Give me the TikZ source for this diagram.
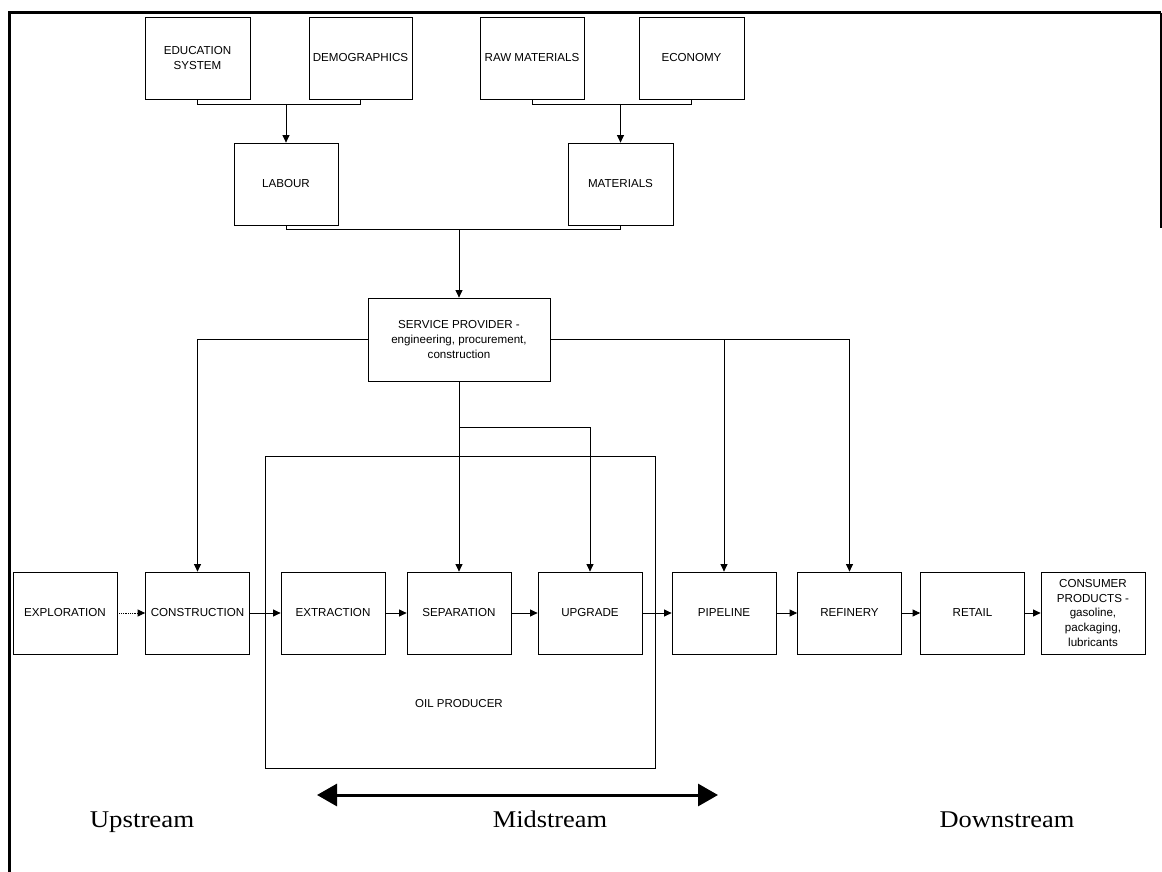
\documentclass[tikz,border=0pt]{standalone}
\usepackage{fontspec}
\usepackage{graphicx}
\setmainfont{Liberation Sans}
\newfontfamily\seriflab{Liberation Serif}
\usetikzlibrary{arrows.meta,calc}
\begin{document}
\begin{tikzpicture}[x=1pt,y=-1pt,
  box/.style={draw, line width=0.8pt, fill=white, align=center, inner sep=2pt,
    font=\fontsize{11.6}{14.7}\selectfont, minimum height=82pt, minimum width=104pt},
  conn/.style={line width=0.8pt},
  arr/.style={line width=0.8pt, -{Triangle[length=7.5pt,width=7pt]}},
  stream/.style={font=\seriflab\fontsize{24}{28}\selectfont, inner sep=0pt, anchor=base}
]
\useasboundingbox (0,0) rectangle (1162,872);
\fill[white] (0,0) rectangle (1162,872);
% frame
\draw[line width=3pt] (9.5,872) -- (9.5,12.8) -- (1161,12.8);
\draw[line width=1.4pt] (1161,12.8) -- (1161,228);

% oil producer container
\node[draw, line width=0.8pt, minimum width=390pt, minimum height=312pt, inner sep=0pt] (oil) at (460,612) {};
\node[font=\fontsize{11.5}{13}\selectfont] (oiltext) at (459,704) {OIL PRODUCER};

% top boxes
\node[box, minimum width=105pt] (edu) at (197.5,58) {EDUCATION\\SYSTEM};
\node[box, minimum width=103pt] (demo) at (360.5,58) {DEMOGRAPHICS};
\node[box] (raw) at (532,58) {RAW MATERIALS};
\node[box, minimum width=105pt] (econ) at (691.5,58) {ECONOMY};
\node[box] (labour) at (286,184) {LABOUR};
\node[box, minimum width=105pt] (mat) at (620.5,184) {MATERIALS};
\node[box, minimum width=182pt, minimum height=83pt] (sp) at (459,339.5) {SERVICE PROVIDER -\\engineering, procurement,\\construction};

% row
\node[box] (expl) at (65,613) {EXPLORATION};
\node[box] (constr) at (197.5,613) {CONSTRUCTION};
\node[box] (extr) at (333,613) {EXTRACTION};
\node[box] (sep) at (459,613) {SEPARATION};
\node[box] (upg) at (590,613) {UPGRADE};
\node[box] (pipe) at (724,613) {PIPELINE};
\node[box] (ref) at (849.5,613) {REFINERY};
\node[box] (retail) at (972.5,613) {RETAIL};
\node[box] (cons) at (1093,613) {CONSUMER\\PRODUCTS -\\gasoline,\\packaging,\\lubricants};

% bracket levels
\coordinate (br1) at (0,104);
\coordinate (br2) at (0,229);
\coordinate (br3) at (0,427);

% brackets and arrows
\draw[conn] (edu.south) -- (edu.south |- br1) -| (demo.south);
\draw[arr] (labour.north |- br1) -- (labour.north);
\draw[conn] (raw.south) -- (raw.south |- br1) -| (econ.south);
\draw[arr] (mat.north |- br1) -- (mat.north);
\draw[conn] (labour.south) -- (labour.south |- br2) -| (mat.south);
\draw[arr] (sp.north |- br2) -- (sp.north);

\draw[arr] (sp.west) -| (constr.north);
\draw[arr] (sp.east) -| (ref.north);
\draw[arr] (sp.east -| pipe.north) -- (pipe.north);
\draw[arr] (sp.south) -- (sep.north);
\draw[arr] (sp.south |- br3) -| (upg.north);

% flow
\draw[arr, densely dotted] (expl.east) -- (constr.west);
\draw[arr] (constr.east) -- (extr.west);
\draw[arr] (extr.east) -- (sep.west);
\draw[arr] (sep.east) -- (upg.west);
\draw[arr] (upg.east) -- (pipe.west);
\draw[arr] (pipe.east) -- (ref.west);
\draw[arr] (ref.east) -- (retail.west);
\draw[arr] (retail.east) -- (cons.west);

% midstream arrow
\coordinate (mL) at (317,795);
\coordinate (mR) at (718,795);
\draw[line width=3pt, {Triangle[length=20pt,width=22pt]}-{Triangle[length=20pt,width=22pt]}] (mL) -- (mR);

% stream labels
\node[stream] (up) at (142,827) {\scalebox{1.12}[1]{Upstream}};
\node[stream] (mid) at (550,827) {\scalebox{1.1}[1]{Midstream}};
\node[stream] (down) at (1007,827) {\scalebox{1.1}[1]{Downstream}};
\end{tikzpicture}
\end{document}
